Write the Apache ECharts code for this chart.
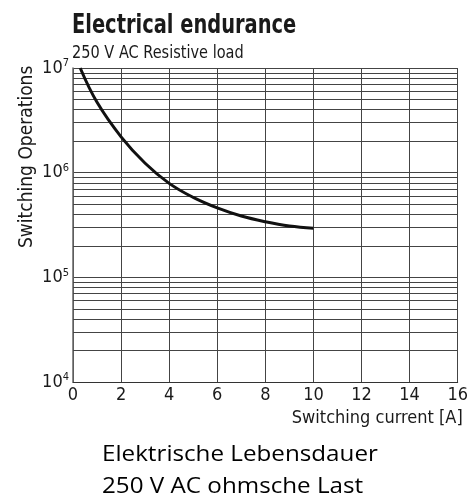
<!DOCTYPE html>
<html>
<head>
<meta charset="utf-8">
<script src="https://cdn.jsdelivr.net/npm/echarts@6/dist/echarts.min.js"></script>
<style>
  html, body { margin: 0; padding: 0; background: #fff; }
  #chart { width: 471px; height: 501px; }
</style>
</head>
<body>
<div id="chart"></div>
<script>
// curve: current [A] and switching operations
const currentA = [0.3, 1, 2, 3, 4, 5, 6, 7, 8, 9, 10];
const operations = [1e7, 4.7e6, 2.2e6, 1.23e6, 7.9e5, 5.8e5, 4.6e5, 3.85e5, 3.4e5, 3.1e5, 2.95e5];
const xTicks = [0, 2, 4, 6, 8, 10, 12, 14, 16];
const decades = [1e4, 1e5, 1e6, 1e7];
const minorSteps = [2, 3, 4, 5, 6, 7, 8, 9];

const condensed = '"DejaVu Sans Condensed", "Liberation Sans Narrow", sans-serif';

let myChart = echarts.init(document.getElementById('chart'));

// minor log grid lines (2..9 in each decade)
let minorLines = [];
decades.slice(0, 3).forEach(function (d) {
    minorSteps.forEach(function (m) {
        minorLines.push({ yAxis: d * m });
    });
});

let option = {
    animation: false,
    backgroundColor: '#fff',
    grid: { left: 73, top: 68, right: 9, bottom: 119 },
    graphic: [
        { type: 'text', x: 72, y: 12, scaleX: 0.8,
          style: { text: 'Electrical endurance', font: 'bold 27px ' + condensed, fill: '#1a1a1a' } },
        { type: 'text', x: 72, y: 45, scaleX: 0.95,
          style: { text: '250 V AC Resistive load', font: '17px ' + condensed, fill: '#1a1a1a' } },
        { type: 'text', x: 18, y: 248, rotation: Math.PI / 2,
          style: { text: 'Switching Operations', font: '19px ' + condensed, fill: '#1a1a1a' } },
        { type: 'text', x: 102, y: 444, scaleX: 1.1,
          style: { text: 'Elektrische Lebensdauer', font: '22px "Open Sans", sans-serif', fill: '#000' } },
        { type: 'text', x: 102, y: 476, scaleX: 1.1,
          style: { text: '250 V AC ohmsche Last', font: '22px "Open Sans", sans-serif', fill: '#000' } }
    ],
    xAxis: {
        type: 'value',
        min: xTicks[0],
        max: xTicks[xTicks.length - 1],
        interval: 2,
        name: 'Switching current [A]',
        nameLocation: 'end',
        nameGap: 5,
        nameTextStyle: {
            fontFamily: condensed, fontSize: 18, color: '#1a1a1a',
            align: 'right', verticalAlign: 'top', padding: [27, 0, 0, 0]
        },
        axisLine: { show: true, lineStyle: { color: '#333', width: 1 } },
        axisTick: { show: false },
        axisLabel: { margin: 4, fontFamily: condensed, fontSize: 18, color: '#1a1a1a' },
        splitLine: { show: true, lineStyle: { color: '#444', width: 1 } }
    },
    yAxis: {
        type: 'log',
        logBase: 10,
        min: decades[0],
        max: decades[decades.length - 1],
        axisLine: { show: true, lineStyle: { color: '#666', width: 1.5 } },
        axisTick: { show: false },
        axisLabel: {
            margin: 4,
            formatter: function (v) {
                return '{b|10}{s|' + Math.round(Math.log10(v)) + '}';
            },
            rich: {
                b: { fontFamily: condensed, fontSize: 18, color: '#1a1a1a' },
                s: { fontFamily: condensed, fontSize: 11, color: '#1a1a1a', padding: [0, 0, 9, 0] }
            }
        },
        splitLine: { show: true, lineStyle: { color: '#444', width: 1 } }
    },
    series: [{
        type: 'line',
        smooth: 0.4,
        symbol: 'none',
        data: currentA.map(function (x, i) { return [x, operations[i]]; }),
        lineStyle: { color: '#111', width: 3 },
        markLine: {
            silent: true,
            symbol: 'none',
            label: { show: false },
            lineStyle: { color: '#444', width: 1, type: 'solid' },
            data: minorLines
        },
        z: 5
    }]
};

myChart.setOption(option);
</script>
</body>
</html>
